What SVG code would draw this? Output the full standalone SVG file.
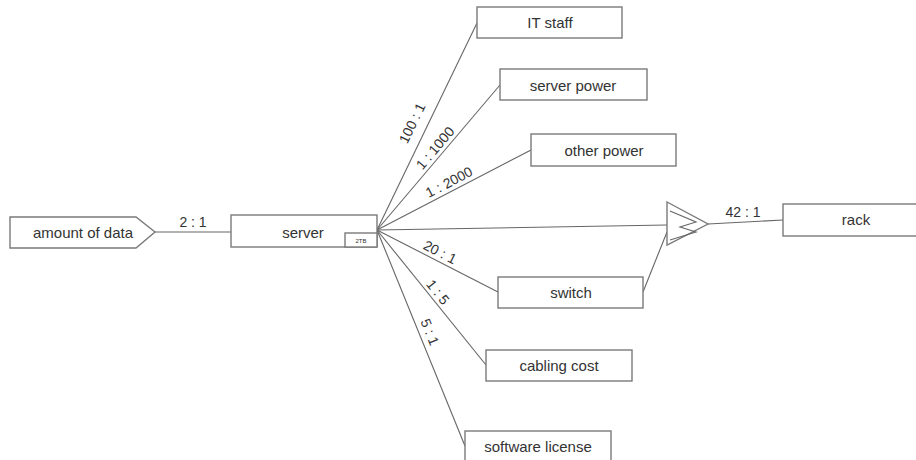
<svg xmlns="http://www.w3.org/2000/svg" width="916" height="460" viewBox="0 0 916 460">
<style>
.box{fill:#fff;stroke:#7a7a7a;stroke-width:1.4}
.ln{fill:none;stroke:#666;stroke-width:1.1}
.t{font-family:"Liberation Sans",Arial,sans-serif;font-size:15px;fill:#333;text-anchor:middle}
.e{font-family:"Liberation Sans",Arial,sans-serif;font-size:14px;fill:#333;text-anchor:middle}
</style>
<rect width="916" height="460" fill="#fff"/>
<g id="connectors">
<line class="ln" x1="155" y1="232" x2="231" y2="232"/>
<line class="ln" x1="377" y1="230" x2="477" y2="23"/>
<line class="ln" x1="377" y1="230" x2="500" y2="85"/>
<line class="ln" x1="377" y1="230" x2="531" y2="150"/>
<line class="ln" x1="377" y1="230" x2="667" y2="225"/>
<line class="ln" x1="377" y1="230" x2="498" y2="292"/>
<line class="ln" x1="377" y1="230" x2="486" y2="365"/>
<line class="ln" x1="377" y1="230" x2="465" y2="446"/>
<line class="ln" x1="643" y1="292" x2="667" y2="232"/>
<line class="ln" x1="708" y1="224" x2="783" y2="220"/>
<text class="e" x="193" y="227">2 : 1</text>
<text class="e" transform="translate(412,123) rotate(-64.2)" y="5">100 : 1</text>
<text class="e" transform="translate(435,148) rotate(-49.7)" y="5">1 : 1000</text>
<text class="e" transform="translate(449,182) rotate(-27.5)" y="5">1 : 2000</text>
<text class="e" transform="translate(440,252) rotate(27.1)" y="5">20 : 1</text>
<text class="e" transform="translate(438,292) rotate(51.1)" y="5">1 : 5</text>
<text class="e" transform="translate(430,332) rotate(67.8)" y="5">5 : 1</text>
<text class="e" x="743" y="217">42 : 1</text>
</g>
<g id="amount-of-data">
<polygon class="box" points="10,217 136,217 155,232 136,248 10,248"/>
<text class="t" x="83" y="238">amount of data</text>
</g>
<g id="server">
<rect class="box" x="231" y="215" width="146" height="32"/>
<rect class="box" x="345" y="233" width="32" height="14"/>
<text class="t" x="303" y="238">server</text>
<text x="361" y="243" font-family="Liberation Sans,Arial,sans-serif" font-size="6" fill="#333" text-anchor="middle">2TB</text>
</g>
<g id="it-staff">
<rect class="box" x="477" y="7" width="145" height="31"/>
<text class="t" x="550" y="28">IT staff</text>
</g>
<g id="server-power">
<rect class="box" x="500" y="69" width="147" height="31"/>
<text class="t" x="573" y="91">server power</text>
</g>
<g id="other-power">
<rect class="box" x="531" y="134" width="145" height="32"/>
<text class="t" x="604" y="156">other power</text>
</g>
<g id="merge">
<polygon class="box" points="667,202 708,224 667,245"/>
<polyline class="ln" points="670,211 696,222 680,227 696,232 670,240"/>
</g>
<g id="rack">
<rect class="box" x="783" y="204" width="146" height="32"/>
<text class="t" x="856" y="225">rack</text>
</g>
<g id="switch">
<rect class="box" x="498" y="277" width="145" height="31"/>
<text class="t" x="571" y="298">switch</text>
</g>
<g id="cabling-cost">
<rect class="box" x="486" y="350" width="146" height="31"/>
<text class="t" x="559" y="371">cabling cost</text>
</g>
<g id="software-license">
<rect class="box" x="465" y="431" width="146" height="32"/>
<text class="t" x="538" y="452">software license</text>
</g>
</svg>
